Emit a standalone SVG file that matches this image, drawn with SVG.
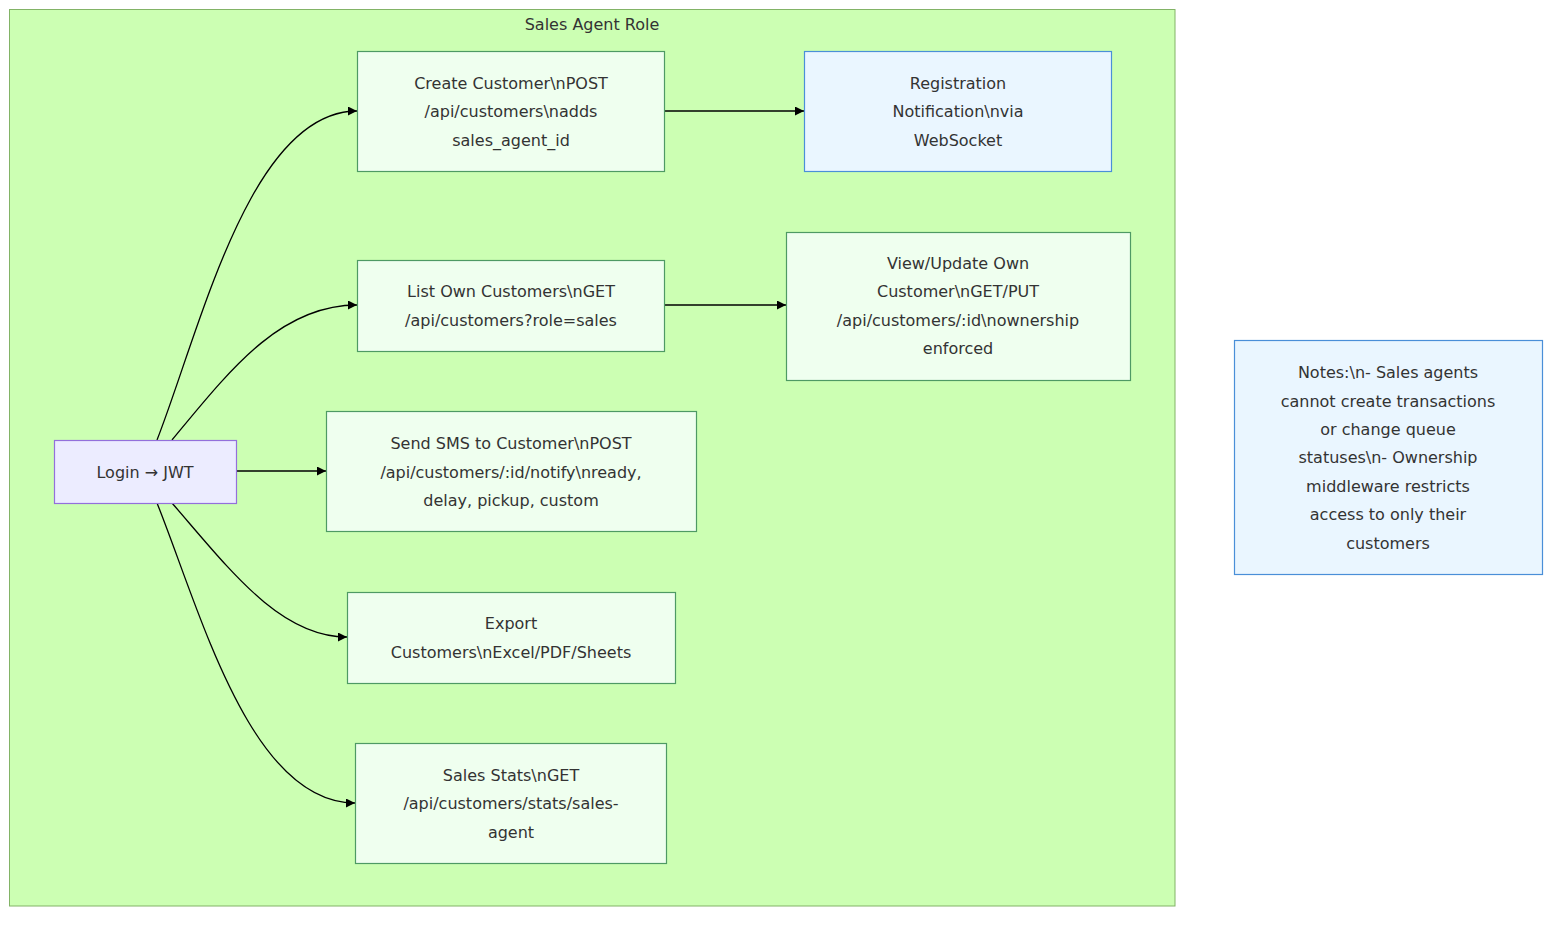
<svg xmlns="http://www.w3.org/2000/svg" width="1568" height="926" viewBox="0 0 1568 926">
<defs>
<marker id="arr" viewBox="0 0 10 10" refX="10" refY="5" markerWidth="9" markerHeight="9" markerUnits="userSpaceOnUse" orient="auto">
<path d="M0,0 L10,5 L0,10 z" fill="#000"/>
</marker>
<style>
text{font-family:"DejaVu Sans",Verdana,sans-serif;font-size:16px;fill:#333;text-anchor:middle;dominant-baseline:central}
.green rect{fill:#efffef;stroke:#4e9a64;stroke-width:1.2}
.blue rect{fill:#eaf6ff;stroke:#4a8fd8;stroke-width:1.2}
.edge{fill:none;stroke:#000;stroke-width:1.3;marker-end:url(#arr)}
</style>
</defs>
<rect width="1568" height="926" fill="#fff"/>
<g id="cluster-sales">
<rect x="9.5" y="9.5" width="1165.5" height="896.5" fill="#ccffb3" stroke="#82b366" stroke-width="1"/>
<text x="592" y="24">Sales Agent Role</text>
</g>
<g id="edges">
<path class="edge" d="M157,440 C200,330 250,111 357,111"/>
<path class="edge" d="M172,440 C230,370 280,305 357,305"/>
<path class="edge" d="M237,471 L326,471"/>
<path class="edge" d="M172,503 C230,570 280,637 347,637"/>
<path class="edge" d="M157,503 C200,610 250,803 355,803"/>
<path class="edge" d="M665,111 L804,111"/>
<path class="edge" d="M665,305 L786,305"/>
</g>
<g id="login">
<rect x="54.5" y="440.5" width="182" height="63" fill="#ececff" stroke="#9370db" stroke-width="1.2"/>
<text x="145" y="472">Login → JWT</text>
</g>
<g id="create" class="green">
<rect x="357.5" y="51.5" width="307" height="120"/>
<text x="511" y="83">Create Customer\nPOST</text>
<text x="511" y="111">/api/customers\nadds</text>
<text x="511" y="140">sales_agent_id</text>
</g>
<g id="registration" class="blue">
<rect x="804.5" y="51.5" width="307" height="120"/>
<text x="958" y="83">Registration</text>
<text x="958" y="111">Notification\nvia</text>
<text x="958" y="140">WebSocket</text>
</g>
<g id="list" class="green">
<rect x="357.5" y="260.5" width="307" height="91"/>
<text x="511" y="291">List Own Customers\nGET</text>
<text x="511" y="320">/api/customers?role=sales</text>
</g>
<g id="view" class="green">
<rect x="786.5" y="232.5" width="344" height="148"/>
<text x="958" y="263">View/Update Own</text>
<text x="958" y="291">Customer\nGET/PUT</text>
<text x="958" y="320">/api/customers/:id\nownership</text>
<text x="958" y="348">enforced</text>
</g>
<g id="sms" class="green">
<rect x="326.5" y="411.5" width="370" height="120"/>
<text x="511" y="443">Send SMS to Customer\nPOST</text>
<text x="511" y="472">/api/customers/:id/notify\nready,</text>
<text x="511" y="500">delay, pickup, custom</text>
</g>
<g id="export" class="green">
<rect x="347.5" y="592.5" width="328" height="91"/>
<text x="511" y="623">Export</text>
<text x="511" y="652">Customers\nExcel/PDF/Sheets</text>
</g>
<g id="stats" class="green">
<rect x="355.5" y="743.5" width="311" height="120"/>
<text x="511" y="775">Sales Stats\nGET</text>
<text x="511" y="803">/api/customers/stats/sales-</text>
<text x="511" y="832">agent</text>
</g>
<g id="notes" class="blue">
<rect x="1234.5" y="340.5" width="308" height="234"/>
<text x="1388" y="372">Notes:\n- Sales agents</text>
<text x="1388" y="401">cannot create transactions</text>
<text x="1388" y="429">or change queue</text>
<text x="1388" y="457">statuses\n- Ownership</text>
<text x="1388" y="486">middleware restricts</text>
<text x="1388" y="514">access to only their</text>
<text x="1388" y="543">customers</text>
</g>
</svg>
